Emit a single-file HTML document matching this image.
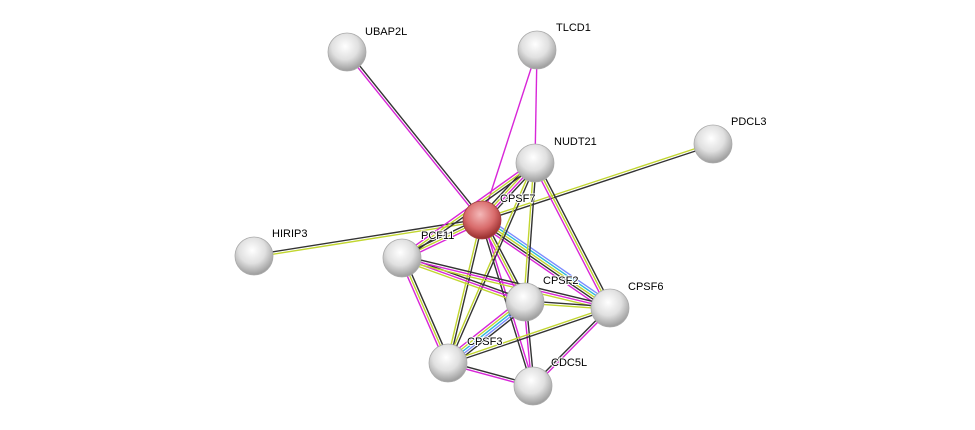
<!DOCTYPE html>
<html><head><meta charset="utf-8"><style>
html,body{margin:0;padding:0;background:#fff;width:975px;height:430px;overflow:hidden}
svg text{font-family:"Liberation Sans",sans-serif;font-size:11px;fill:#000;paint-order:stroke;stroke:#fff;stroke-width:2px}
</style></head><body>
<svg id="s" width="975" height="430" viewBox="0 0 975 430" xmlns="http://www.w3.org/2000/svg">
<defs>
<radialGradient id="g" cx="0.45" cy="0.35" r="0.7">
<stop offset="0" stop-color="#ffffff"/><stop offset="0.5" stop-color="#e0e0e0"/><stop offset="1" stop-color="#909090"/>
</radialGradient>
<radialGradient id="r" cx="0.45" cy="0.35" r="0.7">
<stop offset="0" stop-color="#f4b8b8"/><stop offset="0.55" stop-color="#d86a6a"/><stop offset="1" stop-color="#8a2020"/>
</radialGradient>
</defs>
<g id="edges"></g><g id="nodes"></g>
</svg>
<script>
var N={UBAP2L:[347,52,365,31],TLCD1:[537,50,556,27],PDCL3:[713,144,731,121],NUDT21:[535,163,554,141],CPSF7:[482,220,500,198],HIRIP3:[254,256,272,233],PCF11:[402,258,421,235],CPSF2:[525,302,543,280],CPSF6:[610,308,628,286],CPSF3:[448,363,467,341],CDC5L:[533,386,551,362]};
var C={k:"#333",y:"#c2d630",m:"#d826d8",b:"#7b8cff",c:"#30b8d8"};
var E=[["CPSF7","UBAP2L","mk"],["CPSF7","TLCD1","m"],["TLCD1","NUDT21","m"],["CPSF7","PDCL3","yk"],["HIRIP3","CPSF7","ky"],
["CPSF7","NUDT21","kymk"],["CPSF7","PCF11","myk"],["CPSF7","CPSF2","kym"],["CPSF7","CPSF6","bcykm"],["CPSF7","CPSF3","ky"],["CPSF7","CDC5L","mk"],
["NUDT21","PCF11","kym"],["NUDT21","CPSF2","ky"],["NUDT21","CPSF6","kym"],["NUDT21","CPSF3","ky"],
["PCF11","CPSF2","kmy"],["PCF11","CPSF6","kmy"],["PCF11","CPSF3","kym"],["CPSF2","CPSF6","ky"],["CPSF2","CPSF3","kbcym"],
["CPSF2","CDC5L","km"],["CPSF6","CPSF3","ky"],["CPSF6","CDC5L","mk"],["CPSF3","CDC5L","km"]];
var ns="http://www.w3.org/2000/svg",eg=document.getElementById("edges"),ng=document.getElementById("nodes");
E.forEach(function(e){var a=N[e[0]],b=N[e[1]],dx=b[0]-a[0],dy=b[1]-a[1],L=Math.hypot(dx,dy),px=-dy/L,py=dx/L,n=e[2].length;
for(var i=0;i<n;i++){var o=(i-(n-1)/2)*2.4,l=document.createElementNS(ns,"line");
l.setAttribute("x1",a[0]+px*o);l.setAttribute("y1",a[1]+py*o);l.setAttribute("x2",b[0]+px*o);l.setAttribute("y2",b[1]+py*o);
l.setAttribute("stroke",C[e[2][i]]);l.setAttribute("stroke-width","1.4");eg.appendChild(l);}});
for(var k in N){var p=N[k],c=document.createElementNS(ns,"circle");c.setAttribute("cx",p[0]);c.setAttribute("cy",p[1]);c.setAttribute("r",19);
c.setAttribute("fill",k=="CPSF7"?"url(#r)":"url(#g)");c.setAttribute("stroke",k=="CPSF7"?"#a04040":"#aaa");c.setAttribute("stroke-width","0.8");ng.appendChild(c);}
for(var k in N){var p=N[k],t=document.createElementNS(ns,"text");t.setAttribute("x",p[2]);t.setAttribute("y",p[3]+4);t.textContent=k;ng.appendChild(t);}
</script>
</body></html>
